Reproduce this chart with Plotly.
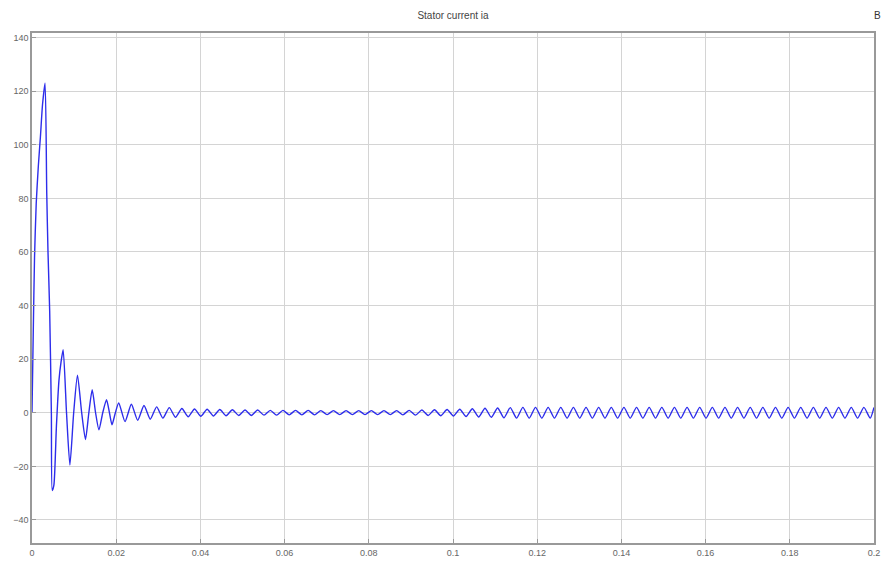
import plotly.graph_objects as go

# Stator current ia: sample times (s) and current values (A)
t = [0.0, 0.0003, 0.0006, 0.001, 0.0015, 0.002, 0.0025, 0.0031, 0.0035, 0.0038, 0.0042, 0.0046, 0.0048,
     0.0052, 0.0058, 0.0064, 0.0069, 0.0074, 0.0082, 0.009, 0.0099, 0.0108, 0.0118, 0.0127, 0.0135,
     0.0143, 0.0151, 0.0159, 0.0168, 0.0177, 0.0184, 0.019, 0.0198, 0.0206,
     0.0221, 0.0236, 0.0251, 0.0266, 0.0281, 0.0296, 0.0311, 0.0326, 0.0341, 0.0356,
     0.0371, 0.0386, 0.0401, 0.0416, 0.0431, 0.0446, 0.0461, 0.0476, 0.0491, 0.0506,
     0.0521, 0.0536, 0.0551, 0.0566, 0.0581, 0.0596, 0.0611, 0.0626, 0.0641, 0.0656,
     0.0671, 0.0686, 0.0701, 0.0716, 0.0731, 0.0746, 0.0761, 0.0776, 0.0791, 0.0806,
     0.0821, 0.0836, 0.0851, 0.0866, 0.0881, 0.0896, 0.0911, 0.0926, 0.0941, 0.0956,
     0.0971, 0.0986, 0.1001, 0.1016, 0.1031, 0.1046, 0.1061, 0.1076, 0.1091, 0.1106,
     0.1121, 0.1136, 0.1151, 0.1166, 0.1181, 0.1196, 0.1211, 0.1226, 0.1241, 0.1256,
     0.1271, 0.1286, 0.1301, 0.1316, 0.1331, 0.1346, 0.1361, 0.1376, 0.1391, 0.1406,
     0.1421, 0.1436, 0.1451, 0.1466, 0.1481, 0.1496, 0.1511, 0.1526, 0.1541, 0.1556,
     0.1571, 0.1586, 0.1601, 0.1616, 0.1631, 0.1646, 0.1661, 0.1676, 0.1691, 0.1706,
     0.1721, 0.1736, 0.1751, 0.1766, 0.1781, 0.1796, 0.1811, 0.1826, 0.1841, 0.1856,
     0.1871, 0.1886, 0.1901, 0.1916, 0.1931, 0.1946, 0.1961, 0.1976, 0.1991, 0.2]
ia = [0.0, 30.0, 58.0, 78.0, 92.0, 103.0, 115.0, 123.0, 82.0, 60.0, 38.0, 0.0, -29.0,
      -27.0, -5.0, 12.0, 19.0, 23.5, 0.0, -19.5, 0.0, 14.0, 0.0, -10.0, 0.0,
      8.6, 0.0, -6.4, 0.0, 4.9, 0.0, -4.5, 0.0, 3.7,
      -3.3, 3.2, -2.8, 2.7, -2.4, 2.2, -2.0, 1.9, -1.7, 1.6,
      -1.5, 1.4, -1.3, 1.3, -1.2, 1.2, -1.1, 1.1, -1.0, 1.0,
      -1.0, 1.0, -0.9, 0.9, -0.9, 0.9, -0.8, 0.9, -0.8, 0.9,
      -0.8, 0.8, -0.7, 0.8, -0.7, 0.8, -0.7, 0.8, -0.7, 0.8,
      -0.7, 0.8, -0.7, 0.8, -0.8, 0.9, -0.9, 1.0, -1.0, 1.1,
      -1.1, 1.2, -1.2, 1.3, -1.4, 1.5, -1.6, 1.7, -1.7, 1.8,
      -1.9, 1.9, -2.0, 2.0, -2.0, 2.0, -2.0, 2.0, -2.0, 2.0,
      -2.0, 2.0, -2.0, 2.0, -2.0, 2.0, -2.0, 2.0, -2.0, 2.0,
      -2.0, 2.0, -2.0, 2.0, -2.0, 2.0, -2.0, 2.0, -2.0, 2.0,
      -2.0, 2.0, -2.0, 2.0, -2.0, 2.0, -2.0, 2.0, -2.0, 2.0,
      -2.0, 2.0, -2.0, 2.0, -2.0, 2.0, -2.0, 2.0, -2.0, 2.0,
      -2.0, 2.0, -2.0, 2.0, -2.0, 2.0, -2.0, 2.0, -2.0, 2.0, 0.0]

x_ticks = [0, 0.02, 0.04, 0.06, 0.08, 0.1, 0.12, 0.14, 0.16, 0.18, 0.2]
x_tick_labels = ["0", "0.02", "0.04", "0.06", "0.08", "0.1", "0.12", "0.14", "0.16", "0.18", "0.2"]
y_ticks = [-40, -20, 0, 20, 40, 60, 80, 100, 120, 140]

fig = go.Figure()
fig.add_trace(go.Scatter(
    x=t, y=ia, mode="lines",
    line=dict(color="rgb(45,45,235)", width=1.4, shape="spline", smoothing=0.6),
    showlegend=False,
))

axis_font = dict(family="Liberation Sans Narrow, Liberation Sans, Arial, sans-serif", size=9, color="#666666")
fig.update_layout(
    width=883, height=568,
    margin=dict(l=32, r=9, t=33, b=25, autoexpand=False),
    paper_bgcolor="white", plot_bgcolor="white",
    title=dict(text="Stator current ia", x=0.513, xanchor="center", y=0.972, yanchor="middle",
               font=dict(family="Liberation Sans Narrow, Liberation Sans, Arial, sans-serif", size=10, color="#444444")),
    xaxis=dict(range=[0, 0.2], tickvals=x_ticks, ticktext=x_tick_labels, automargin=False,
               showgrid=True, gridcolor="#d4d4d4", gridwidth=1, zeroline=False,
               showline=True, linecolor="#999999", linewidth=1.5, mirror=True,
               ticks="inside", ticklen=4, tickcolor="#999999", tickfont=axis_font),
    yaxis=dict(range=[-48.6, 141.7], tickvals=y_ticks, automargin=False,
               showgrid=True, gridcolor="#d4d4d4", gridwidth=1, zeroline=False,
               showline=True, linecolor="#999999", linewidth=1.5, mirror=True,
               ticks="inside", ticklen=4, tickcolor="#999999", tickfont=axis_font),
    annotations=[dict(text="B", xref="paper", yref="paper", x=1.0, y=1.0, xshift=9, yshift=18,
                      showarrow=False, xanchor="right", yanchor="middle",
                      font=dict(family="Liberation Sans, Arial, sans-serif", size=10, color="#333333"))],
)

fig.write_html("out.html", config={"displayModeBar": False},
               post_script="document.body.style.margin='0';document.body.style.overflow='hidden';")
